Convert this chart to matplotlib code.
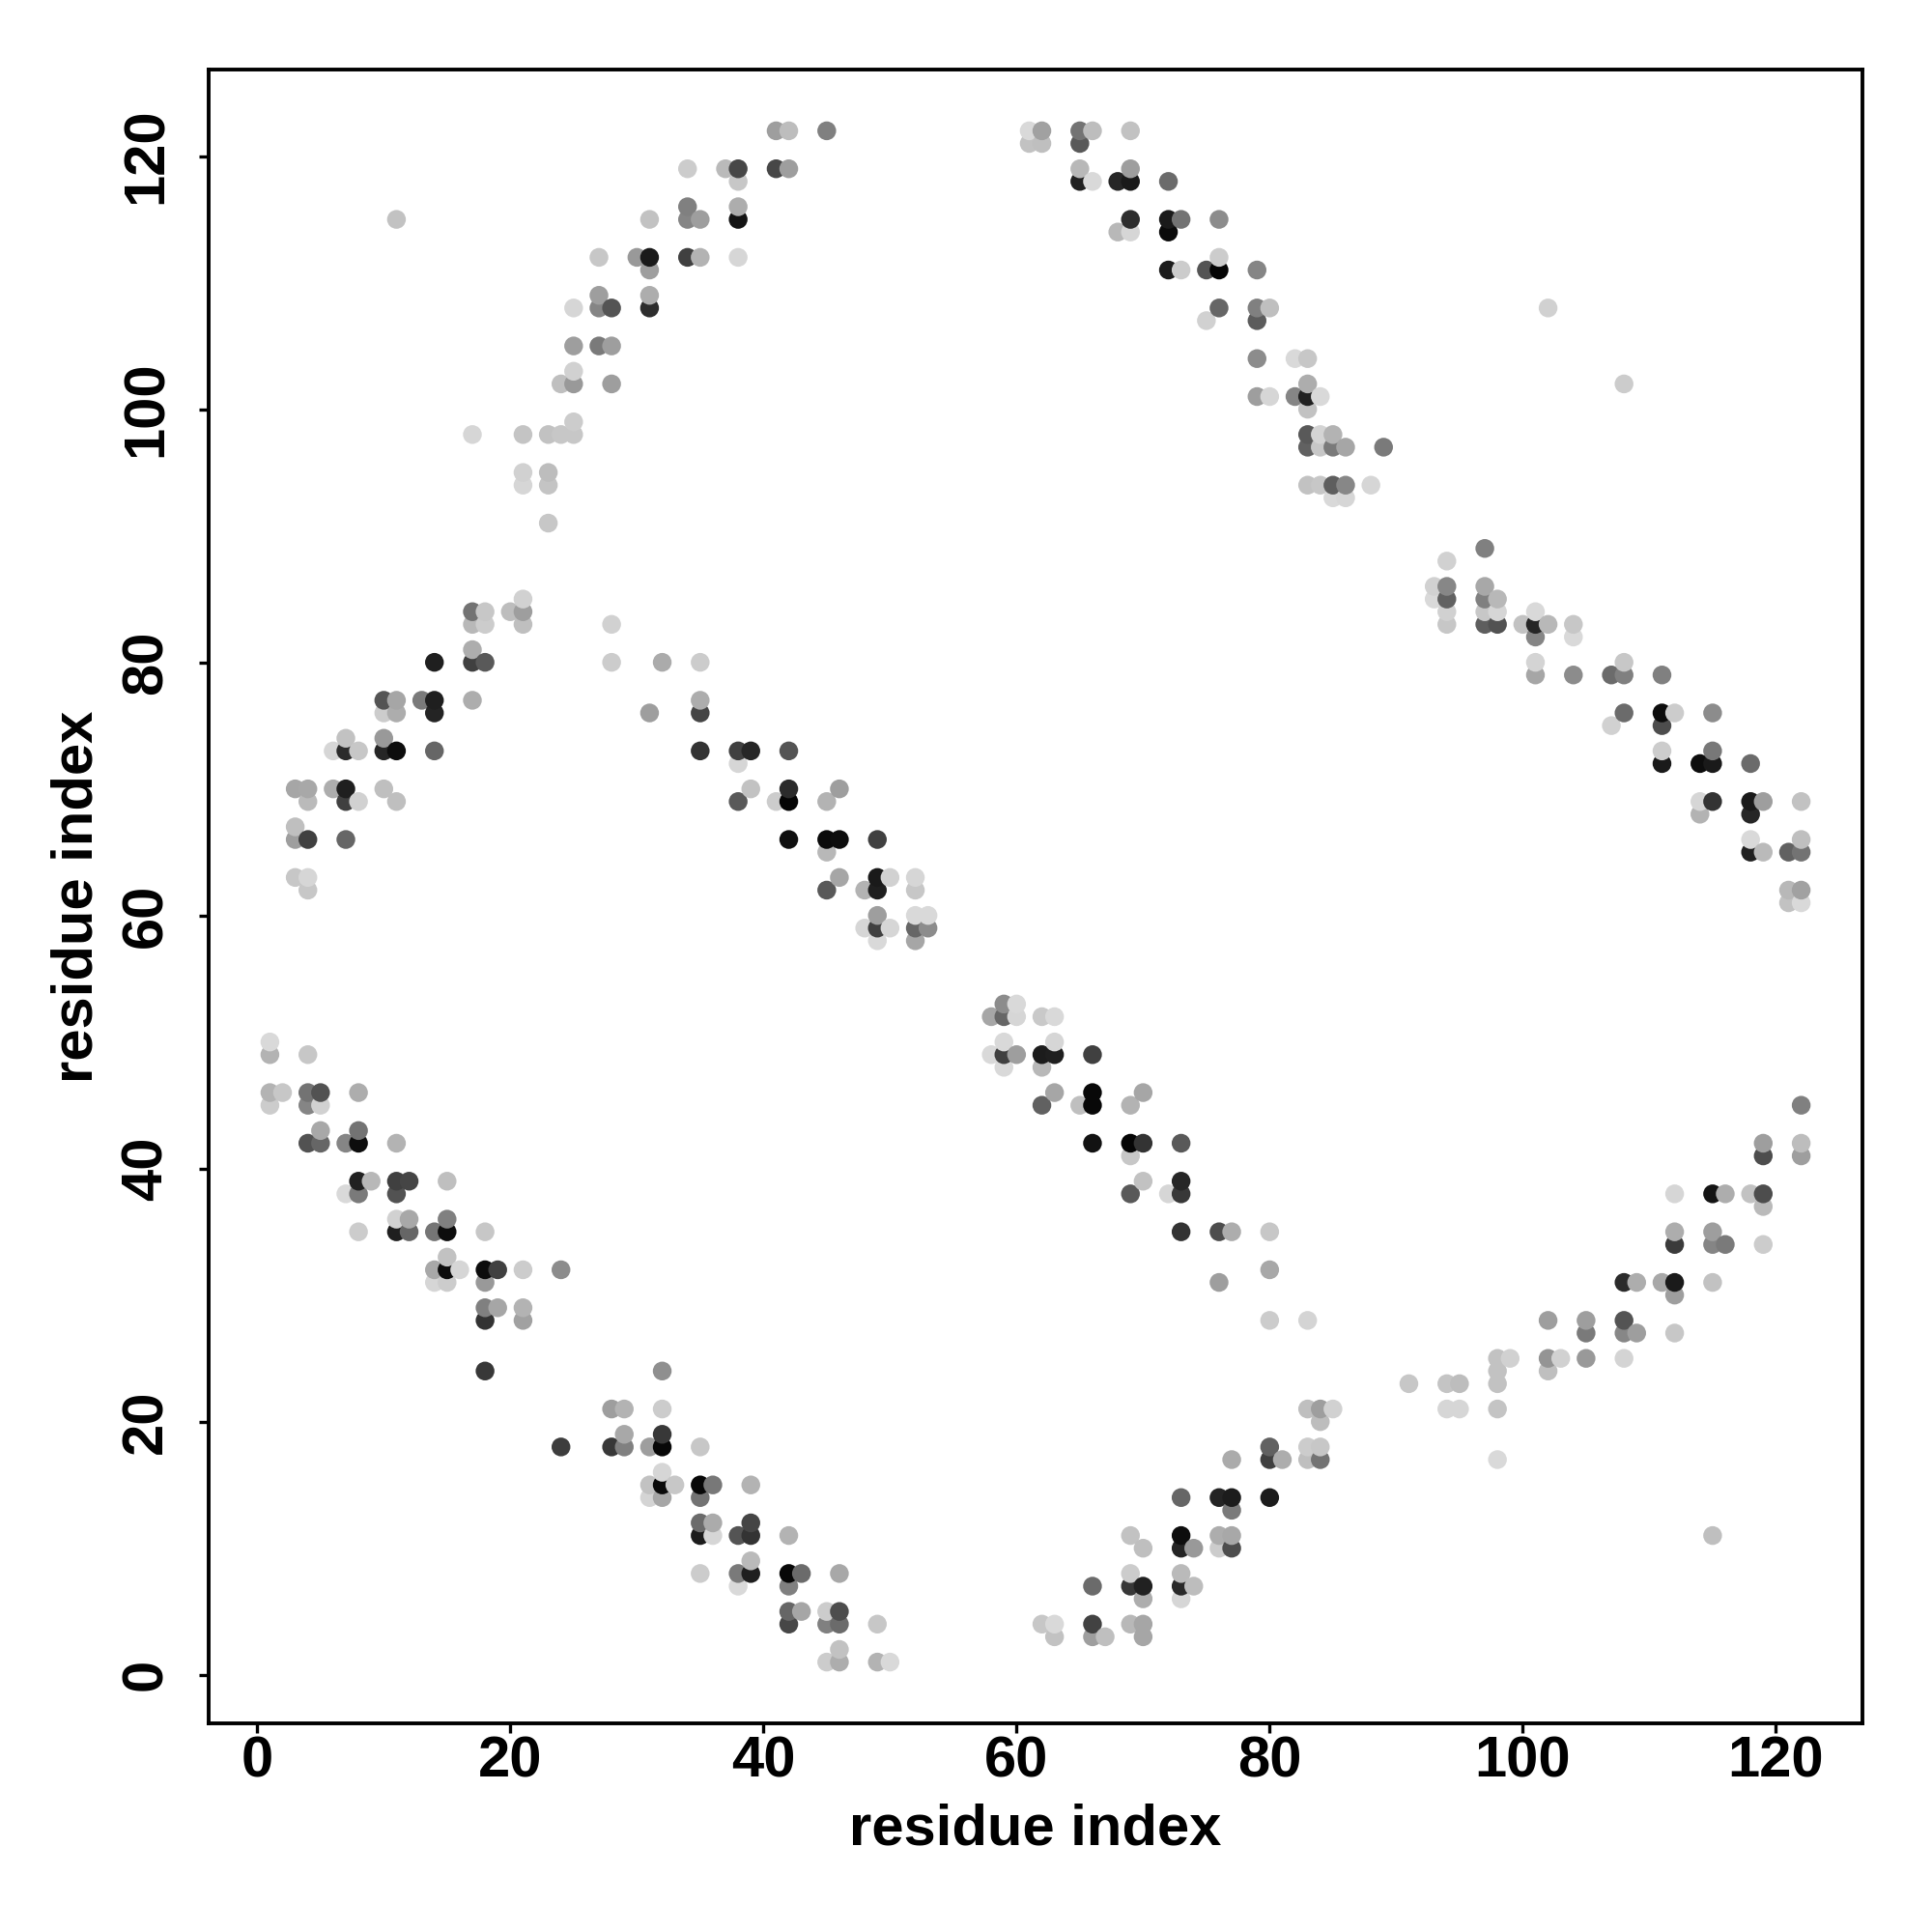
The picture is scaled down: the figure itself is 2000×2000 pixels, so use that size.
import numpy as np
import matplotlib
matplotlib.use("Agg")
import matplotlib.pyplot as plt

# contact map: residue column, partner residues and grey level (0 black, 1 white)
columns = [1, 2, 3, 4, 5, 6, 7, 8, 9, 10, 11, 12, 13, 14, 15, 16, 17, 18, 19, 20, 21, 23, 24, 25, 27, 28, 29, 30,
           31, 32, 33, 34, 35, 36, 37, 38, 39, 41, 42, 43, 45, 46, 48, 49, 50, 52, 53, 58, 59, 60, 61, 62, 63, 65,
           66, 67, 68, 69, 70, 72, 73, 74, 75, 76, 77, 79, 80, 81, 82, 83, 84, 85, 86, 88, 89, 91, 93, 94, 95, 97,
           98, 99, 100, 101, 102, 103, 104, 105, 107, 108, 109, 111, 112, 114, 115, 116, 118, 119, 121, 122]

partners = [
    [45, 46, 49, 50], [46], [63, 66, 67, 70], [42, 45, 46, 49, 62, 63, 66, 69, 70], [42, 43, 45, 46], [70, 73],
    [38, 42, 66, 69, 70, 73, 74], [35, 38, 39, 42, 43, 46, 69, 73], [39], [70, 73, 74, 76, 77],
    [35, 36, 38, 39, 42, 69, 73, 76, 77, 115], [35, 36, 39], [77], [31, 32, 35, 73, 76, 77, 80],
    [31, 32, 33, 35, 36, 39], [32], [77, 80, 81, 83, 84, 98], [24, 28, 29, 31, 32, 35, 80, 83, 84], [29, 32], [84],
    [28, 29, 32, 83, 84, 85, 94, 95, 98], [91, 94, 95, 98], [18, 32, 98, 102], [98, 99, 102, 103, 105, 108],
    [105, 108, 109, 112], [18, 21, 80, 83, 102, 105, 108], [18, 19, 21], [112],
    [14, 15, 18, 76, 108, 109, 111, 112, 115], [14, 15, 16, 18, 19, 21, 24, 80], [15], [112, 115, 116, 119],
    [8, 11, 12, 14, 15, 18, 73, 76, 77, 80, 112, 115], [11, 12, 15], [119],
    [7, 8, 11, 69, 72, 73, 112, 115, 116, 118, 119], [8, 9, 11, 12, 15, 70, 73], [69, 119, 122],
    [4, 5, 7, 8, 11, 66, 69, 70, 73, 119, 122], [5, 8], [1, 4, 5, 62, 65, 66, 69, 122],
    [1, 2, 4, 5, 8, 63, 66, 70], [59, 62], [1, 4, 58, 59, 60, 62, 63, 66], [1, 59, 63], [58, 59, 60, 62, 63], [59, 60],
    [49, 52], [48, 49, 50, 52, 53], [49, 52, 53], [121, 122], [4, 45, 48, 49, 52, 121, 122], [3, 4, 46, 49, 50, 52],
    [45, 118, 119, 121, 122], [3, 4, 7, 42, 45, 46, 49, 118, 122], [3], [114, 118],
    [4, 7, 8, 11, 38, 41, 42, 45, 114, 115, 118, 119, 122], [3, 4, 6, 7, 10, 39, 42, 46], [38, 111, 114, 115, 118],
    [6, 7, 8, 10, 11, 14, 35, 38, 39, 42, 111, 115], [7, 10], [107, 111], [10, 11, 14, 31, 35, 108, 111, 112, 115],
    [10, 11, 13, 14, 17, 35], [101, 104, 107, 108, 111], [14, 17, 18, 28, 32, 35, 101, 108], [17], [101, 104],
    [17, 18, 21, 28, 94, 97, 98, 100, 101, 102, 104], [17, 18, 20, 21, 94, 97, 98, 101], [21, 93, 94, 97, 98],
    [93, 94, 97], [94], [97], [23], [85, 86], [21, 23, 83, 84, 85, 86, 88], [21, 23], [83, 84, 85, 86, 89],
    [17, 21, 23, 24, 25, 83, 84, 85], [25], [83], [79, 80, 82, 83, 84], [24, 25, 28, 83, 108], [25], [79, 82, 83],
    [25, 27, 28], [75, 79], [25, 27, 28, 31, 76, 79, 80, 102], [27, 31], [31, 72, 73, 75, 76, 79],
    [27, 30, 31, 34, 35, 38, 76], [68, 69, 72], [11, 31, 34, 35, 38, 69, 72, 73, 76], [34, 38],
    [38, 65, 66, 68, 69, 72], [34, 37, 38, 41, 42, 65, 69], [61, 62, 65], [41, 42, 45, 61, 62, 65, 66, 69],
]

shades = [
    [.80, .70, .70, .85], [.78], [.78, .62, .75, .65], [.32, .52, .45, .78, .78, .84, .25, .73, .66],
    [.40, .66, .82, .32], [.68, .84], [.85, .52, .40, .25, .12, .17, .76], [.80, .48, .13, .05, .45, .68, .82, .78],
    [.72], [.75, .15, .60, .80, .33], [.12, .82, .32, .25, .70, .75, .05, .68, .65, .76], [.40, .66, .27], [.48],
    [.84, .66, .46, .40, .14, .12, .12], [.80, .05, .76, .05, .50, .75], [.84], [.68, .25, .68, .72, .45, .84],
    [.22, .20, .50, .60, .05, .78, .35, .80, .78], [.65, .25], [.74], [.63, .70, .80, .75, .62, .82, .84, .82, .77],
    [.78, .77, .74, .76], [.24, .55, .78, .75], [.78, .80, .60, .82, .62, .84], [.48, .52, .62, .78],
    [.22, .62, .80, .82, .62, .62, .33], [.50, .66, .70], [.60], [.83, .76, .62, .62, .18, .68, .62, .10, .76],
    [.65, .04, .84, .03, .22, .80, .56, .67], [.78], [.25, .52, .50, .80],
    [.80, .11, .42, .45, .03, .78, .20, .27, .68, .80, .70, .62], [.84, .67, .47], [.73],
    [.85, .48, .33, .35, .84, .25, .84, .08, .68, .78, .28], [.12, .73, .20, .27, .70, .76, .15], [.80, .28, .62],
    [.28, .40, .50, .03, .70, .06, .02, .17, .33, .62, .74], [.65, .42], [.80, .50, .80, .35, .72, .04, .70, .50],
    [.68, .76, .42, .30, .66, .65, .05, .62], [.84, .70], [.70, .78, .85, .25, .62, .12, .10, .25], [.85, .84, .82],
    [.65, .40, .85, .78, .84], [.55, .85], [.85, .65], [.85, .25, .85, .40, .55], [.62, .84, .85], [.76, .85],
    [.78, .38, .72, .11, .79, .75, .63], [.76, .85, .65, .12, .84, .85], [.75, .13, .72, .35, .45],
    [.62, .26, .42, .07, .03, .03, .25, .85, .74], [.75], [.72, .15],
    [.72, .22, .80, .76, .35, .78, .02, .70, .84, .18, .10, .62, .76], [.65, .65, .68, .13, .75, .76, .20, .65],
    [.84, .11, .04, .10, .42], [.84, .16, .73, .14, .05, .40, .20, .22, .15, .35, .80, .45], [.74, .60], [.82, .33],
    [.80, .68, .14, .62, .30, .40, .02, .80, .55], [.30, .66, .48, .11, .67, .68], [.62, .55, .36, .50, .52],
    [.11, .25, .38, .80, .66, .78, .84, .75], [.68], [.52, .85],
    [.75, .80, .75, .83, .76, .38, .35, .76, .13, .68, .78], [.45, .78, .74, .62, .78, .78, .83, .85],
    [.82, .85, .37, .48, .70], [.84, .53, .65], [.84], [.48], [.78], [.85, .82],
    [.84, .77, .78, .82, .38, .53, .82], [.84, .74], [.37, .78, .50, .66, .50],
    [.85, .77, .76, .76, .76, .32, .84, .72], [.82], [.76], [.65, .83, .52, .15, .85], [.75, .58, .62, .72, .82],
    [.82], [.55, .85, .78], [.60, .48, .62], [.82, .42], [.83, .53, .33, .17, .42, .50, .78, .80], [.62, .68],
    [.66, .10, .80, .30, .05, .50], [.78, .62, .10, .23, .68, .84, .80], [.70, .84, .05],
    [.75, .76, .52, .62, .08, .20, .10, .47, .55], [.48, .68], [.76, .13, .85, .15, .10, .42],
    [.80, .73, .30, .30, .62, .73, .62], [.76, .72, .38], [.62, .74, .50, .85, .63, .45, .75, .76],
]

tick_values = [0, 20, 40, 60, 80, 100, 120]
axis_label = "residue index"

plt.rcParams['font.family'] = ['Liberation Sans', 'DejaVu Sans']
plt.rcParams['font.weight'] = 'bold'

x = []
y = []
grey = []
for col, ys, gs in zip(columns, partners, shades):
    for a, b in zip(ys, gs):
        x.append(col)
        y.append(a)
        grey.append(b)
x = np.array(x)
y = np.array(y)
grey = np.array(grey)

# later columns and higher partners sit on top
order = np.lexsort((y, x))

fig = plt.figure(figsize=(10, 10), dpi=200)
ax = fig.add_axes([216 / 2000, 1 - 1784 / 2000, (1928 - 216) / 2000, (1784 - 72) / 2000])
ax.scatter(x[order], y[order], c=[str(g) for g in grey[order]], s=49, linewidths=0, zorder=3)

ax.set_xlim(-3.84, 126.84)
ax.set_ylim(-3.84, 126.84)
ax.set_xticks(tick_values)
ax.set_yticks(tick_values)
ax.tick_params(axis='x', labelsize=21.5, length=3.6, width=1.2, pad=1)
ax.tick_params(axis='y', labelsize=21.5, length=3.6, width=1.2, pad=9.5)
plt.setp(ax.get_yticklabels(), rotation=90, va='center')
for side in ax.spines.values():
    side.set_linewidth(1.4)

ax.set_xlabel(axis_label, fontsize=21.5, fontweight='bold')
ax.set_ylabel(axis_label, fontsize=21.5, fontweight='bold')
ax.xaxis.set_label_coords((1072 - 216) / 1712, (1784 - 1866) / 1712)
ax.yaxis.set_label_coords((108 - 216) / 1712, (1784 - 928) / 1712)

fig.savefig("out.png", dpi=200)
